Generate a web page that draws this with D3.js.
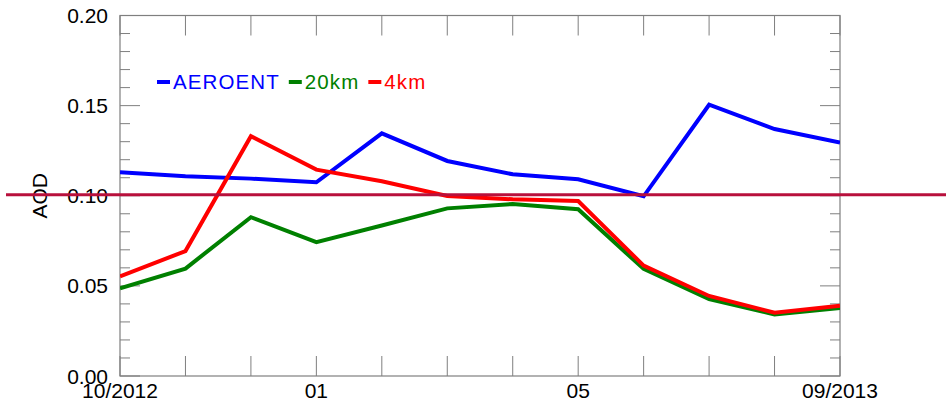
<!DOCTYPE html>
<html>
<head>
<meta charset="utf-8">
<script src="https://cdn.jsdelivr.net/npm/d3@7"></script>
<style>
  body { margin: 0; background: #fff; }
  svg { display: block; font-family: "Liberation Sans", Arial, sans-serif; }
</style>
</head>
<body>
<div id="chart"></div>
<script>
// months 10/2012 .. 09/2013
var months = ["10/2012", "11", "12", "01", "02", "03", "04", "05", "06", "07", "08", "09/2013"];
var tickLabels = { 0: "10/2012", 3: "01", 7: "05", 11: "09/2013" };
var aeroent = [0.113, 0.1108, 0.1095, 0.1075, 0.1346, 0.1193, 0.1119, 0.1091, 0.0997, 0.1505, 0.137, 0.1295];
var km20 = [0.0487, 0.0596, 0.0881, 0.0743, 0.0835, 0.093, 0.0954, 0.0925, 0.0594, 0.0427, 0.0342, 0.0377];
var km4 = [0.0553, 0.0693, 0.133, 0.1145, 0.108, 0.0999, 0.098, 0.0971, 0.0612, 0.0444, 0.0351, 0.039];
var refValue = 0.10;
var yTicks = [0, 0.05, 0.10, 0.15, 0.20];

var svgWidth = 946, svgHeight = 415;
var margin = { top: 15.5, right: 106, bottom: 39, left: 120 };
var width = svgWidth - margin.left - margin.right;
var height = svgHeight - margin.top - margin.bottom;

var svg = d3.select("#chart")
  .append("svg")
  .attr("width", svgWidth)
  .attr("height", svgHeight);

var chartGroup = svg.append("g")
  .attr("transform", `translate(${margin.left}, ${margin.top})`);

var xScale = d3.scaleLinear()
  .domain([0, months.length - 1])
  .range([0, width]);

var yScale = d3.scaleLinear()
  .domain([0, 0.2])
  .range([height, 0]);

var axisColor = "#7f7f7f";
var minorTicks = d3.range(0, 0.2001, 0.01);
var idx = d3.range(months.length);

// frame
chartGroup.append("rect")
  .attr("width", width)
  .attr("height", height)
  .attr("fill", "none")
  .attr("stroke", axisColor)
  .attr("stroke-width", 1.2);

// y ticks left and right
function yTickLen(v) {
  return Math.abs(Math.round(v * 100) % 5) === 0 ? 20 : 10;
}
chartGroup.selectAll(".ytl")
  .data(minorTicks)
  .enter().append("line")
  .attr("x1", 0)
  .attr("x2", d => yTickLen(d))
  .attr("y1", d => yScale(d))
  .attr("y2", d => yScale(d))
  .attr("stroke", axisColor);
chartGroup.selectAll(".ytr")
  .data(minorTicks)
  .enter().append("line")
  .attr("x1", width)
  .attr("x2", d => width - yTickLen(d))
  .attr("y1", d => yScale(d))
  .attr("y2", d => yScale(d))
  .attr("stroke", axisColor);

// x ticks bottom and top
chartGroup.selectAll(".xtb")
  .data(idx)
  .enter().append("line")
  .attr("x1", d => xScale(d))
  .attr("x2", d => xScale(d))
  .attr("y1", height)
  .attr("y2", height - 20)
  .attr("stroke", axisColor);
chartGroup.selectAll(".xtt")
  .data(idx)
  .enter().append("line")
  .attr("x1", d => xScale(d))
  .attr("x2", d => xScale(d))
  .attr("y1", 0)
  .attr("y2", 20)
  .attr("stroke", axisColor);

// tick labels
chartGroup.selectAll(".ylab")
  .data(yTicks)
  .enter().append("text")
  .attr("x", -12)
  .attr("y", d => yScale(d))
  .attr("dy", "0.36em")
  .attr("text-anchor", "end")
  .attr("font-size", "21px")
  .attr("fill", "#000")
  .text(d => d3.format(".2f")(d));

chartGroup.selectAll(".xlab")
  .data(Object.keys(tickLabels).map(Number))
  .enter().append("text")
  .attr("x", d => xScale(d))
  .attr("y", height + 22)
  .attr("text-anchor", "middle")
  .attr("font-size", "21px")
  .attr("fill", "#000")
  .text(d => tickLabels[d]);

// axis title
chartGroup.append("text")
  .attr("transform", `translate(${-81}, ${yScale(0.1)}) rotate(-90)`)
  .attr("dy", "0.36em")
  .attr("text-anchor", "middle")
  .attr("font-size", "21px")
  .attr("fill", "#000")
  .text("AOD");

// lines
var series = [
  { name: "AEROENT", values: aeroent, color: "#0000ff" },
  { name: "20km", values: km20, color: "#008000" },
  { name: "4km", values: km4, color: "#ff0000" }
];

var line = d3.line()
  .x((d, i) => xScale(i))
  .y(d => yScale(d));

chartGroup.append("clipPath")
  .attr("id", "clip")
  .append("rect")
  .attr("width", width)
  .attr("height", height);

series.forEach(function(s) {
  chartGroup.append("path")
    .datum(s.values)
    .attr("d", line)
    .attr("fill", "none")
    .attr("stroke", s.color)
    .attr("stroke-width", 4)
    .attr("stroke-linejoin", "miter")
    .attr("clip-path", "url(#clip)");
});

// reference line across the whole picture
svg.append("line")
  .attr("x1", 6)
  .attr("x2", svgWidth)
  .attr("y1", margin.top + yScale(refValue) - 1)
  .attr("y2", margin.top + yScale(refValue) - 1)
  .attr("stroke", "#b8103c")
  .attr("stroke-width", 3);

// legend
var legend = svg.append("g");
var lx = 157;
series.forEach(function(s) {
  legend.append("line")
    .attr("x1", lx)
    .attr("x2", lx + 13)
    .attr("y1", 82)
    .attr("y2", 82)
    .attr("stroke", s.color)
    .attr("stroke-width", 4);
  var t = legend.append("text")
    .attr("x", lx + 16)
    .attr("y", 89)
    .attr("font-size", "20.5px")
    .attr("letter-spacing", "1.1px")
    .attr("fill", s.color)
    .text(s.name);
  lx += 16 + t.node().getComputedTextLength() + 9;
});
</script>
</body>
</html>
